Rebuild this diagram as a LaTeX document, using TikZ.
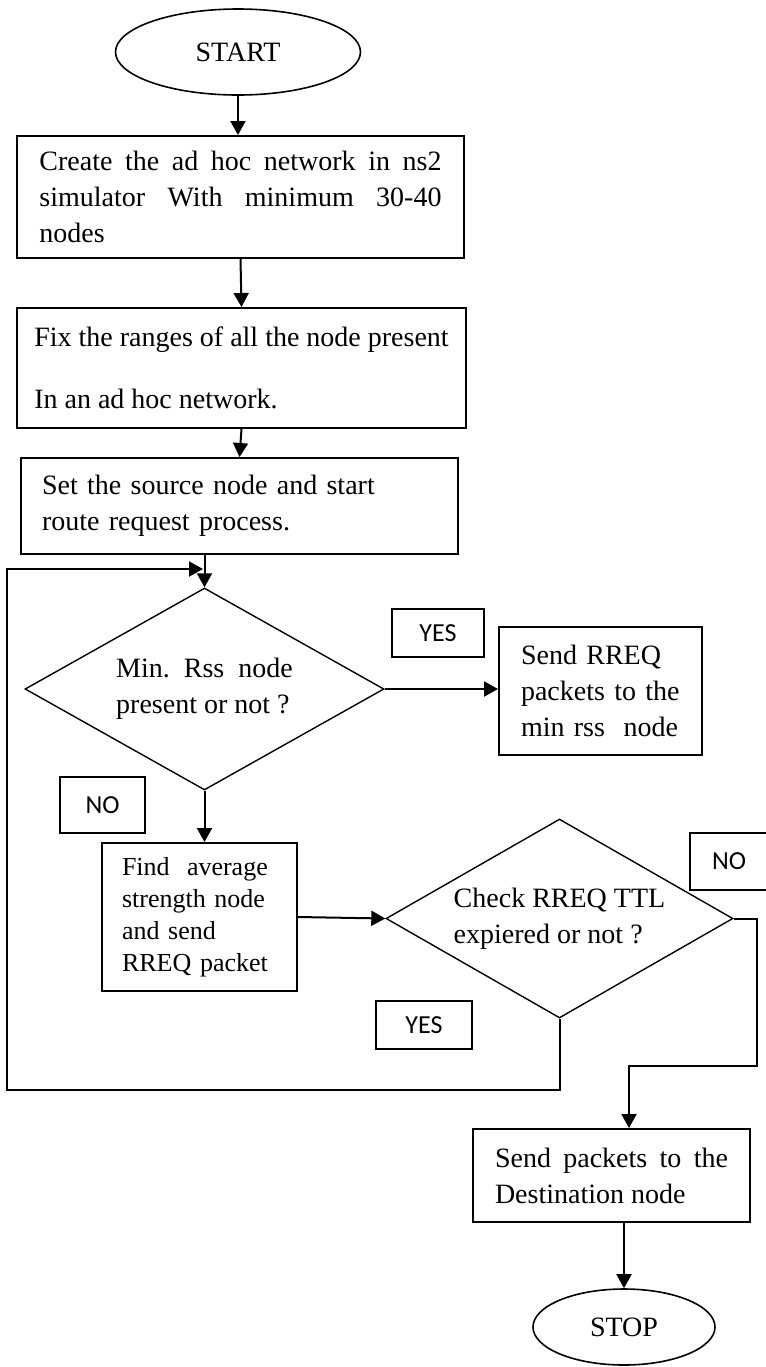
\documentclass[tikz,border=0pt]{standalone}
\usepackage{fontspec}
\setmainfont{Liberation Serif}
\newfontfamily\yesnofont{Carlito}
\usetikzlibrary{shapes.geometric,arrows.meta}

\begin{document}
\begin{tikzpicture}[x=0.5pt,y=-0.5pt,
  box/.style={draw,line width=1pt,inner ysep=0pt,font=\fontsize{14pt}{18pt}\selectfont},
  terminal/.style={draw,ellipse,line width=0.8pt,inner sep=0pt,font=\fontsize{14pt}{18pt}\selectfont},
  decision/.style={draw,diamond,line width=0.7pt,inner sep=0pt,align=left,font=\fontsize{14pt}{18pt}\selectfont},
  answer/.style={draw,line width=0.8pt,inner sep=0pt,font=\yesnofont\fontsize{13pt}{15pt}\selectfont},
  flow/.style={line width=1pt,-{Triangle[length=7pt,width=7.5pt]}},
  wire/.style={line width=1pt}]
\useasboundingbox (0,0) rectangle (766,1367);
% blocks
\node[terminal,minimum width=122.5pt,minimum height=43pt] (start) at (238,52) {START};
\node[box,text width=201pt,inner xsep=11.25pt,minimum height=61pt,align=justify] (create) at (240.5,197)
  {Create the ad hoc network in ns2 simulator With minimum 30-40 nodes};
\node[box,minimum width=224.5pt,minimum height=60pt,align=left] (ranges) at (241.5,368)
  {Fix the ranges of all the node present\\[13pt]In an ad hoc network.};
\node[box,text width=197.5pt,inner xsep=10.5pt,minimum height=48pt,align=left] (source) at (239.5,506)
  {Set the source node and start\\route request process.};
\node[decision,aspect=1.78,minimum width=179.5pt,minimum height=101pt] (minrss) at (204.5,689)
  {Min.\ \ Rss\ \ node\\present or not ?};
\node[box,text width=79.5pt,inner xsep=11pt,minimum height=64pt,align=left] (sendreq) at (600.5,691)
  {Send RREQ\\packets to the\\min rss\ \ node};
\node[box,text width=77.5pt,inner xsep=10pt,minimum height=74pt,align=left,
  font=\fontsize{13pt}{16pt}\selectfont] (average) at (199.5,917)
  {Find\ \ average\\strength node\\and send\\RREQ packet};
\node[decision,aspect=1.74,minimum width=173.5pt,minimum height=99.5pt] (ttl) at (559.5,918.5)
  {Check RREQ TTL\\expiered or not ?};
\node[box,text width=116.5pt,inner xsep=11pt,minimum height=46.5pt,align=justify] (dest) at (611.5,1175.5)
  {Send packets to the Destination node};
\node[terminal,minimum width=91pt,minimum height=38pt] (stop) at (624,1327) {STOP};
% answers
\node[answer,minimum width=46pt,minimum height=24pt] (yesa) at (438,633) {YES};
\node[answer,minimum width=42.5pt,minimum height=28pt] (noa) at (102.5,805) {NO};
\node[answer,minimum width=39pt,minimum height=28.5pt] (nob) at (729,861.5) {NO};
\node[answer,minimum width=48pt,minimum height=24pt] (yesb) at (424,1025) {YES};
% corners
\coordinate (r1) at (757,1066);
\coordinate (r2) at (629,1066);
\coordinate (l1) at (557,1090);
\coordinate (l2) at (7,1090);
\coordinate (l3) at (7,569);
\coordinate (l4) at (203,569);
% connectors
\draw[flow] (start.south) -- (start.south |- create.north);
\draw[flow] (create.south) -- (ranges.north);
\draw[flow] (ranges.south) -- (source.north);
\draw[flow] (source.south -| minrss.north) -- (minrss.north);
\draw[flow] (minrss.east) -- (minrss.east -| sendreq.west);
\draw[flow] (minrss.south) -- (minrss.south |- average.north);
\draw[flow] (average.east) -- (ttl.west);
\draw[flow] (ttl.east) -| (r1) -- (r2) -- (r2 |- dest.north);
\draw[flow] (ttl.south) -- (ttl.south |- l1) -- (l2) -- (l3) -- (l4);
\draw[flow] (dest.south -| stop.north) -- (stop.north);
\end{tikzpicture}
\end{document}
